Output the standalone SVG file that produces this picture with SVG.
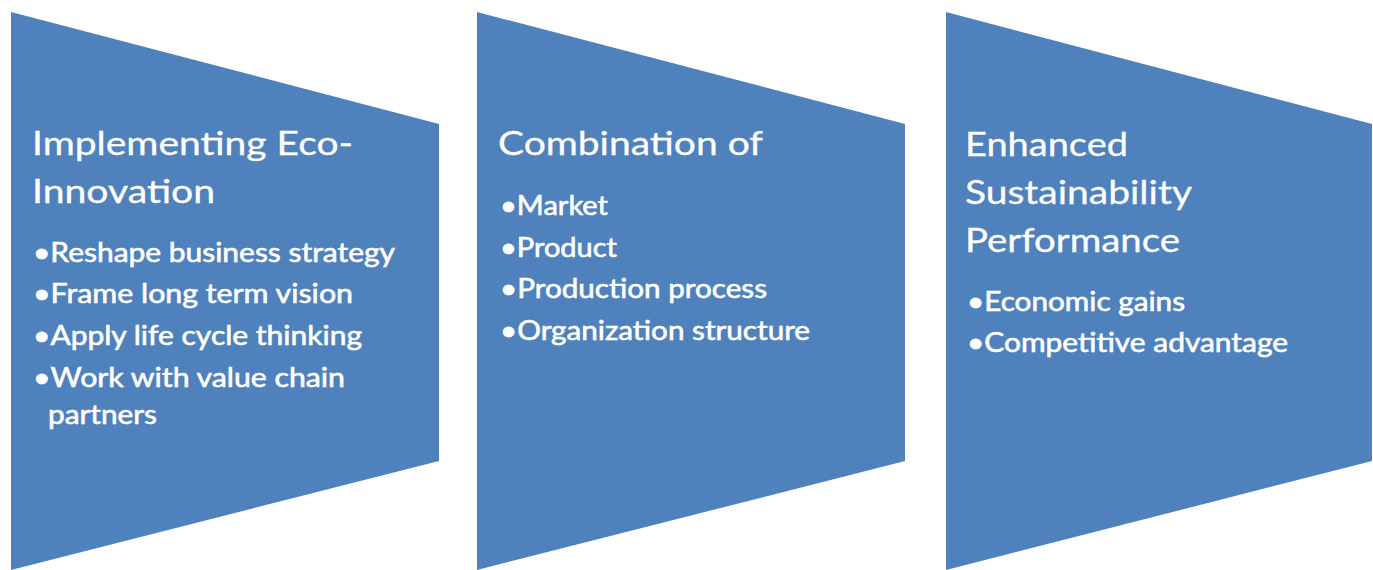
<svg xmlns="http://www.w3.org/2000/svg" width="1373" height="570" viewBox="0 0 1373 570">
  <style>
    .step { fill: #4F81BD; }
    .title { font-family: Lato, "Open Sans", "Liberation Sans", sans-serif; font-size: 33px; fill: #ffffff; stroke: #ffffff; stroke-width: 0.3px; }
    .item { font-family: Lato, "Open Sans", "Liberation Sans", sans-serif; font-size: 26px; fill: #ffffff; stroke: #ffffff; stroke-width: 0.6px; }
  </style>
  <rect width="1373" height="570" fill="#ffffff"/>

  <!-- Stage 1 -->
  <g id="stage-implementing">
    <polygon class="step" points="11,12 439,124 439,461 11,570"/>
    <text class="title" x="32" y="155" textLength="321" lengthAdjust="spacingAndGlyphs">Implementing Eco-</text>
    <text class="title" x="32" y="203" textLength="183" lengthAdjust="spacingAndGlyphs">Innovation</text>
    <text class="item" x="33" y="262" textLength="362" lengthAdjust="spacingAndGlyphs">•Reshape business strategy</text>
    <text class="item" x="33" y="303" textLength="320" lengthAdjust="spacingAndGlyphs">•Frame long term vision</text>
    <text class="item" x="33" y="345" textLength="329" lengthAdjust="spacingAndGlyphs">•Apply life cycle thinking</text>
    <text class="item" x="33" y="387" textLength="312" lengthAdjust="spacingAndGlyphs">•Work with value chain</text>
    <text class="item" x="48" y="424" textLength="109" lengthAdjust="spacingAndGlyphs">partners</text>
  </g>

  <!-- Stage 2 -->
  <g id="stage-combination">
    <polygon class="step" points="477,12 905,124 905,461 477,570"/>
    <text class="title" x="498" y="155" textLength="265" lengthAdjust="spacingAndGlyphs">Combination of</text>
    <text class="item" x="500" y="215" textLength="108" lengthAdjust="spacingAndGlyphs">•Market</text>
    <text class="item" x="500" y="257" textLength="117" lengthAdjust="spacingAndGlyphs">•Product</text>
    <text class="item" x="500" y="298" textLength="267" lengthAdjust="spacingAndGlyphs">•Production process</text>
    <text class="item" x="500" y="340" textLength="310" lengthAdjust="spacingAndGlyphs">•Organization structure</text>
  </g>

  <!-- Stage 3 -->
  <g id="stage-enhanced">
    <polygon class="step" points="946,12 1372,124 1372,461 946,570"/>
    <text class="title" x="965" y="156" textLength="163" lengthAdjust="spacingAndGlyphs">Enhanced</text>
    <text class="title" x="965" y="204" textLength="227" lengthAdjust="spacingAndGlyphs">Sustainability</text>
    <text class="title" x="965" y="252" textLength="215" lengthAdjust="spacingAndGlyphs">Performance</text>
    <text class="item" x="967" y="311" textLength="218" lengthAdjust="spacingAndGlyphs">•Economic gains</text>
    <text class="item" x="967" y="352" textLength="321" lengthAdjust="spacingAndGlyphs">•Competitive advantage</text>
  </g>
</svg>
